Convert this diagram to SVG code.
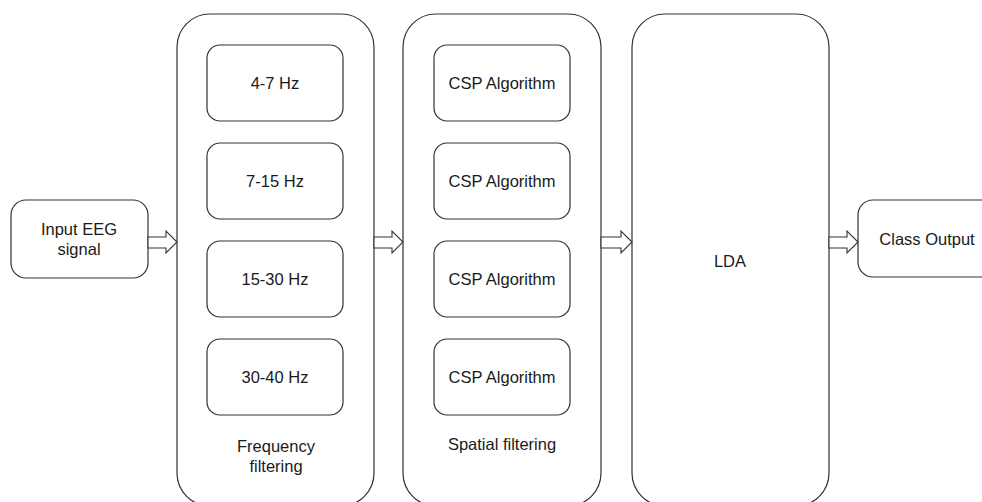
<svg xmlns="http://www.w3.org/2000/svg" width="982" height="502" viewBox="0 0 982 502">
<style>
.box{fill:#fff;stroke:#333;stroke-width:1.2}
.arrow{fill:#fff;stroke:#333;stroke-width:1.1;stroke-linejoin:miter}
text{font-family:"Liberation Sans",Arial,sans-serif;font-size:16.5px;fill:#1a1a1a;text-anchor:middle}
</style>
<rect width="982" height="502" fill="#fff"/>
<g id="input">
<rect class="box" x="11" y="200" width="137" height="78" rx="15"/>
<text x="79" y="235">Input EEG</text>
<text x="79" y="255">signal</text>
</g>
<g id="frequency-filtering">
<rect class="box" x="177" y="14" width="197" height="492" rx="33"/>
<text x="276" y="452">Frequency</text>
<text x="276" y="472">filtering</text>
</g>
<g id="band-4-7">
<rect class="box" x="207" y="45" width="136" height="76" rx="13"/>
<text x="275" y="89">4-7 Hz</text>
</g>
<g id="band-7-15">
<rect class="box" x="207" y="143" width="136" height="76" rx="13"/>
<text x="275" y="187">7-15 Hz</text>
</g>
<g id="band-15-30">
<rect class="box" x="207" y="241" width="136" height="76" rx="13"/>
<text x="275" y="285">15-30 Hz</text>
</g>
<g id="band-30-40">
<rect class="box" x="207" y="339" width="136" height="76" rx="13"/>
<text x="275" y="383">30-40 Hz</text>
</g>
<g id="spatial-filtering">
<rect class="box" x="403" y="14" width="198" height="492" rx="33"/>
<text x="502" y="450">Spatial filtering</text>
</g>
<g id="csp-1">
<rect class="box" x="434" y="45" width="136" height="76" rx="13"/>
<text x="502" y="89">CSP Algorithm</text>
</g>
<g id="csp-2">
<rect class="box" x="434" y="143" width="136" height="76" rx="13"/>
<text x="502" y="187">CSP Algorithm</text>
</g>
<g id="csp-3">
<rect class="box" x="434" y="241" width="136" height="76" rx="13"/>
<text x="502" y="285">CSP Algorithm</text>
</g>
<g id="csp-4">
<rect class="box" x="434" y="339" width="136" height="76" rx="13"/>
<text x="502" y="383">CSP Algorithm</text>
</g>
<g id="lda">
<rect class="box" x="632" y="14" width="197" height="492" rx="33"/>
<text x="730" y="267">LDA</text>
</g>
<g id="class-output">
<rect class="box" x="858" y="200" width="140" height="77" rx="15"/>
<text x="927" y="245">Class Output</text>
</g>
<g id="connectors">
<polygon class="arrow" points="148,237 166,237 166,231 177,242 166,253 166,248 148,248"/>
<polygon class="arrow" points="374,237 392,237 392,231 403,242 392,253 392,248 374,248"/>
<polygon class="arrow" points="601,237 621,237 621,231 632,242 621,253 621,248 601,248"/>
<polygon class="arrow" points="829,237 847,237 847,231 858,242 847,253 847,248 829,248"/>
</g>
</svg>
